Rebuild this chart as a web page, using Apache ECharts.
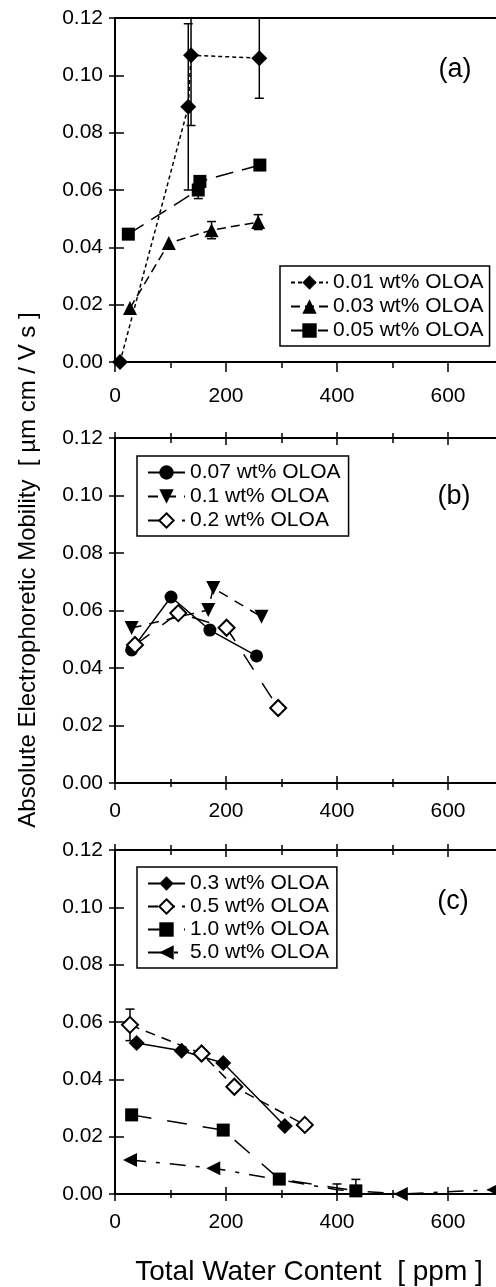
<!DOCTYPE html>
<html>
<head>
<meta charset="utf-8">
<script src="https://cdn.jsdelivr.net/npm/echarts@6/dist/echarts.min.js"></script>
<style>
  html, body { margin: 0; padding: 0; background: #fff; }
  #chart { width: 496px; height: 1287px; }
</style>
</head>
<body>
<div id="chart"></div>
<script>
// ---- data (x = total water ppm, y = mobility) ----
// panel (a)
const olo001 = [[9, 0.000], [132, 0.089], [137, 0.107], [260, 0.106]]
const olo003 = [[27, 0.0188], [97, 0.0415], [174, 0.046], [258, 0.0488]]
const olo005 = [[24, 0.0446], [150, 0.060], [153, 0.063], [261, 0.0687]]
// panel (b)
const olo007 = [[30, 0.0463], [101, 0.0647], [171, 0.0532], [255, 0.0442]]
const olo01  = [[30, 0.0539], [168, 0.0602], [177, 0.0678], [264, 0.0578]]
const olo02  = [[36, 0.048], [114, 0.0591], [201, 0.054], [294, 0.0261]]
// panel (c)
const olo03 = [[39, 0.0527], [120, 0.050], [195, 0.0457], [306, 0.0237]]
const olo05 = [[27, 0.059], [156, 0.049], [215, 0.0374], [342, 0.0241]]
const olo10 = [[30, 0.0276], [195, 0.0223], [296, 0.0052], [434, 0.0011]]
const olo50 = [[27, 0.0119], [177, 0.009], [400, 0.0015], [515, 0.0], [682, 0.0015]]

// error bars: [x, y, +/-]
const errA = [[132, 0.089, 0.029], [137, 0.107, 0.0245], [260, 0.106, 0.014],
              [174, 0.046, 0.003], [258, 0.0488, 0.0026], [150, 0.060, 0.003]]
const errC = [[27, 0.059, 0.0055], [434, 0.0011, 0.004], [400, 0.0015, 0.002]]

const xTicks = { min: 0, max: 800, interval: 200 }
const yTicks = { min: 0, max: 0.12, interval: 0.02 }
const panelLabels = ['(a)', '(b)', '(c)']

const FONT = '"Liberation Sans", Arial, sans-serif'
const grids = [
  { left: 115, top: 18, height: 344, right: -63 },
  { left: 115, top: 438, height: 345, right: -63 },
  { left: 115, top: 850, height: 344, right: -63 },
].map(g => ({ ...g, containLabel: false, outerBoundsMode: 'none' }))

const xAxis = []
const yAxis = []
grids.forEach((g, p) => {
  const axLine = { show: true, lineStyle: { color: '#000', width: 2 } }
  const base = { type: 'value', gridIndex: p, ...xTicks, splitLine: { show: false } }
  // bottom, outward ticks + labels
  xAxis.push({
    ...base, position: 'bottom', axisLine: axLine,
    axisTick: { show: true, inside: false, length: p === 0 ? 10 : 7, lineStyle: { color: '#000', width: 1.5 } },
    minorTick: { show: true, splitNumber: 2, length: p === 0 ? 6 : 4, lineStyle: { color: '#000', width: 1.5 } },
    axisLabel: { color: '#000', fontSize: 21, fontFamily: FONT, margin: p === 0 ? 24 : 18, showMaxLabel: false },
  })
  // bottom, inward ticks
  xAxis.push({
    ...base, position: 'bottom', axisLine: { show: false },
    axisTick: { show: p > 0, inside: true, length: 7, lineStyle: { color: '#000', width: 1.5 } },
    minorTick: { show: p > 0, splitNumber: 2, length: 4, lineStyle: { color: '#000', width: 1.5 } },
    axisLabel: { show: false },
  })
  // top, outward
  xAxis.push({
    ...base, position: 'top', axisLine: axLine,
    axisTick: { show: p > 0, inside: false, length: 6, lineStyle: { color: '#000', width: 1.5 } },
    minorTick: { show: p > 0, splitNumber: 2, length: 5, lineStyle: { color: '#000', width: 1.5 } },
    axisLabel: { show: false },
  })
  // top, inward
  xAxis.push({
    ...base, position: 'top', axisLine: { show: false },
    axisTick: { show: p > 0, inside: true, length: 7, lineStyle: { color: '#000', width: 1.5 } },
    minorTick: { show: p > 0, splitNumber: 2, length: 5, lineStyle: { color: '#000', width: 1.5 } },
    axisLabel: { show: false },
  })
  const yBase = { type: 'value', gridIndex: p, ...yTicks, position: 'left', splitLine: { show: false } }
  yAxis.push({
    ...yBase, axisLine: axLine,
    axisTick: { show: true, inside: false, length: 6, lineStyle: { color: '#000', width: 1.5 } },
    axisLabel: { color: '#000', fontSize: 21, fontFamily: FONT, margin: 12, formatter: v => v.toFixed(2) },
  })
  yAxis.push({
    ...yBase, axisLine: { show: false },
    axisTick: { show: true, inside: true, length: 9, lineStyle: { color: '#000', width: 1.5 } },
    axisLabel: { show: false },
  })
})

function lineSeries(p, name, data, symbol, opts) {
  return {
    name, type: 'line', data, xAxisIndex: p * 4, yAxisIndex: p * 2, z: 3,
    symbol, symbolSize: opts.size || 13, symbolRotate: opts.rotate || 0,
    lineStyle: { color: '#000', width: 1.5, type: opts.dash || 'solid' },
    itemStyle: opts.open
      ? { color: '#fff', borderColor: '#000', borderWidth: 2 }
      : { color: '#000', borderColor: '#000', borderWidth: 0 },
  }
}

function errSeries(p, rows) {
  return {
    type: 'custom', xAxisIndex: p * 4, yAxisIndex: p * 2, z: 2, clip: true, silent: true,
    data: rows.map(r => [r[0], r[1] - r[2], r[1] + r[2]]),
    encode: { x: 0, y: [1, 2] },
    renderItem(params, api) {
      const lo = api.coord([api.value(0), api.value(1)])
      const hi = api.coord([api.value(0), api.value(2)])
      const w = 4.5
      const st = { stroke: '#000', lineWidth: 1.5 }
      return {
        type: 'group', children: [
          { type: 'line', shape: { x1: lo[0], y1: lo[1], x2: hi[0], y2: hi[1] }, style: st },
          { type: 'line', shape: { x1: lo[0] - w, y1: lo[1], x2: lo[0] + w, y2: lo[1] }, style: st },
          { type: 'line', shape: { x1: hi[0] - w, y1: hi[1], x2: hi[0] + w, y2: hi[1] }, style: st },
        ],
      }
    },
  }
}

const series = [
  errSeries(0, errA),
  lineSeries(0, '0.01 wt% OLOA', olo001, 'diamond', { size: 16, dash: [4, 3] }),
  lineSeries(0, '0.03 wt% OLOA', olo003, 'triangle', { size: 14, dash: [9, 5] }),
  lineSeries(0, '0.05 wt% OLOA', olo005, 'rect', { size: 13, dash: [18, 9] }),
  lineSeries(1, '0.07 wt% OLOA', olo007, 'circle', { size: 13 }),
  lineSeries(1, '0.1 wt% OLOA', olo01, 'triangle', { size: 14, rotate: 180, dash: [10, 8] }),
  lineSeries(1, '0.2 wt% OLOA', olo02, 'diamond', { size: 16, open: true, dash: [18, 16] }),
  errSeries(2, errC),
  lineSeries(2, '0.3 wt% OLOA', olo03, 'diamond', { size: 16 }),
  lineSeries(2, '0.5 wt% OLOA', olo05, 'diamond', { size: 16, open: true, dash: [10, 7] }),
  lineSeries(2, '1.0 wt% OLOA', olo10, 'rect', { size: 13, dash: [20, 16] }),
  lineSeries(2, '5.0 wt% OLOA', olo50, 'triangle', { size: 14, rotate: 90, dash: [16, 10, 4, 10] }),
]
// hidden vertex of the 5.0 series at 400 ppm (only its error bar shows)
series[series.length - 1].data = olo50.map(d => d[0] === 400 ? { value: d, symbol: 'none' } : d)

const legendBase = {
  orient: 'vertical', itemWidth: 37, itemHeight: 18, itemGap: 3,
  borderColor: '#000', borderWidth: 1.5, backgroundColor: '#fff',
  textStyle: { color: '#000', fontSize: 21, fontFamily: FONT },
  selectedMode: false,
}
const legend = [
  { ...legendBase, left: 280, top: 266, padding: [6, 6, 5, 10],
    data: ['0.01 wt% OLOA', '0.03 wt% OLOA', '0.05 wt% OLOA'] },
  { ...legendBase, left: 137, top: 456, padding: [6, 8, 5, 10],
    data: ['0.07 wt% OLOA', '0.1 wt% OLOA', '0.2 wt% OLOA'] },
  { ...legendBase, left: 137, top: 867, padding: [6, 8, 5, 10], itemGap: 2,
    data: ['0.3 wt% OLOA', '0.5 wt% OLOA', '1.0 wt% OLOA', '5.0 wt% OLOA'] },
]

const labelPos = [[455, 70], [454, 497], [453, 902]]
const graphic = panelLabels.map((t, i) => ({
  type: 'text', x: labelPos[i][0], y: labelPos[i][1], z: 10,
  style: { text: t, fill: '#000', font: `27px ${FONT}`, align: 'center', verticalAlign: 'middle' },
}))
graphic.push({
  type: 'text', x: 28, y: 570, rotation: Math.PI / 2, z: 10,
  style: { text: 'Absolute Electrophoretic Mobility  [ \u00b5m cm / V s ]', fill: '#000',
    font: `24px ${FONT}`, align: 'center', verticalAlign: 'middle' },
})
graphic.push({
  type: 'text', x: 309, y: 1272, z: 10,
  style: { text: 'Total Water Content  [ ppm ]', fill: '#000',
    font: `28px ${FONT}`, align: 'center', verticalAlign: 'middle' },
})

const chart = echarts.init(document.getElementById('chart'), null, { renderer: 'canvas' })
chart.setOption({
  backgroundColor: '#fff',
  animation: false,
  textStyle: { fontFamily: FONT },
  grid: grids,
  xAxis, yAxis, legend, series, graphic,
})
</script>
</body>
</html>
